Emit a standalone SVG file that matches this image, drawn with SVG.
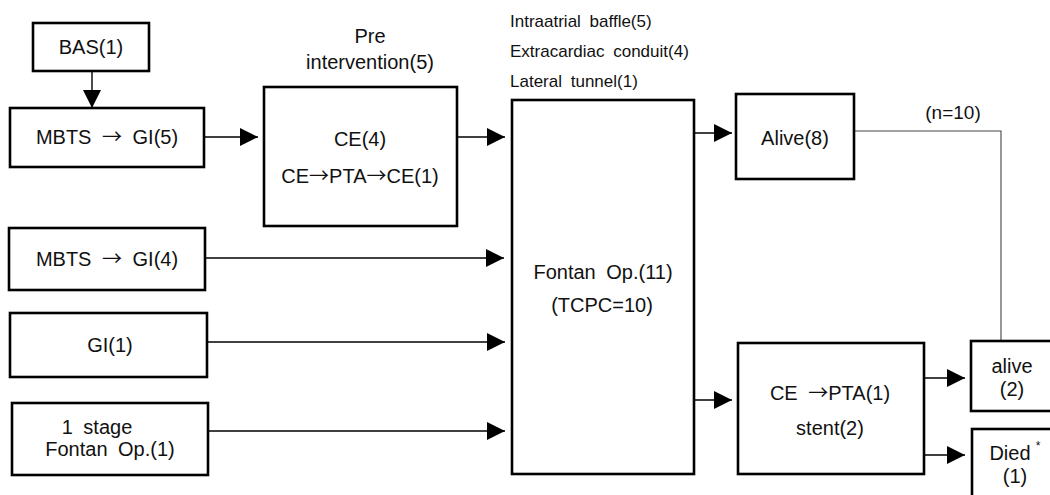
<svg xmlns="http://www.w3.org/2000/svg" width="1050" height="495" viewBox="0 0 1050 495">
<style>
  .box { fill: #fff; stroke: #000; stroke-width: 2.6; }
  .t { font-family: "Liberation Sans", Arial, sans-serif; font-size: 20px; fill: #111; text-anchor: middle; }
  .s { font-family: "Liberation Sans", Arial, sans-serif; font-size: 17px; fill: #111; word-spacing: 4px; }
  .w { word-spacing: 5px; }
  .ar { font-family: "Noto Sans CJK KR", "DejaVu Sans", sans-serif; font-size: 20px; }
  .c { fill: none; stroke: #000; stroke-width: 1.4; }
  .thin { fill: none; stroke: #444; stroke-width: 1.1; }
</style>
<defs>
  <marker id="ah" markerUnits="userSpaceOnUse" markerWidth="20" markerHeight="20" refX="18" refY="9" orient="auto">
    <path d="M0,0 L18,9 L0,18 z" fill="#000"/>
  </marker>
</defs>
<rect width="1050" height="495" fill="#fff"/>

<g id="connectors">
  <path class="c" d="M92,71 V108" marker-end="url(#ah)"/>
  <path class="c" d="M204,137 H258" marker-end="url(#ah)"/>
  <path class="c" d="M457,137 H505" marker-end="url(#ah)"/>
  <path class="c" d="M206,258 H504" marker-end="url(#ah)"/>
  <path class="c" d="M207,342 H505" marker-end="url(#ah)"/>
  <path class="c" d="M208,431 H505" marker-end="url(#ah)"/>
  <path class="c" d="M694,133 H732" marker-end="url(#ah)"/>
  <path class="c" d="M694,400 H732" marker-end="url(#ah)"/>
  <path class="c" d="M924,378 H965" marker-end="url(#ah)"/>
  <path class="c" d="M924,455 H965" marker-end="url(#ah)"/>
  <path class="thin" d="M854,131 H1001 V341"/>
  <text class="t" x="953" y="119" style="font-size:19px">(n=10)</text>
</g>

<g id="bas">
  <rect class="box" x="33" y="23" width="116" height="48"/>
  <text class="t" x="91" y="54">BAS(1)</text>
</g>

<g id="mbts5">
  <rect class="box" x="10" y="108" width="194" height="59"/>
  <text class="t w" x="107" y="144">MBTS <tspan class="ar">→</tspan> GI(5)</text>
</g>

<g id="pre">
  <text class="t" x="370" y="43">Pre</text>
  <text class="t" x="370" y="69">intervention(5)</text>
  <rect class="box" x="264" y="87" width="193" height="139"/>
  <text class="t" x="360" y="146">CE(4)</text>
  <text class="t" x="360" y="183">CE<tspan class="ar">→</tspan>PTA<tspan class="ar">→</tspan>CE(1)</text>
</g>

<g id="mbts4">
  <rect class="box" x="9" y="228" width="196" height="62"/>
  <text class="t w" x="107" y="266">MBTS <tspan class="ar">→</tspan> GI(4)</text>
</g>

<g id="gi1">
  <rect class="box" x="10" y="313" width="197" height="64"/>
  <text class="t" x="110" y="352">GI(1)</text>
</g>

<g id="stage1">
  <rect class="box" x="12" y="403" width="196" height="72"/>
  <text class="t w" x="97" y="434">1 stage</text>
  <text class="t w" x="110" y="456">Fontan Op.(1)</text>
</g>

<g id="fontan">
  <text class="s" x="510" y="27">Intraatrial baffle(5)</text>
  <text class="s" x="510" y="57">Extracardiac conduit(4)</text>
  <text class="s" x="510" y="87">Lateral tunnel(1)</text>
  <rect class="box" x="512" y="100" width="182" height="374"/>
  <text class="t w" x="603" y="279">Fontan Op.(11)</text>
  <text class="t" x="602" y="312">(TCPC=10)</text>
</g>

<g id="alive8">
  <rect class="box" x="736" y="94" width="118" height="85"/>
  <text class="t" x="795" y="145">Alive(8)</text>
</g>

<g id="ce">
  <rect class="box" x="738" y="343" width="186" height="131"/>
  <text class="t w" x="830" y="400">CE <tspan class="ar">→</tspan>PTA(1)</text>
  <text class="t" x="830" y="435">stent(2)</text>
</g>

<g id="alive2">
  <rect class="box" x="971" y="341" width="82" height="70"/>
  <text class="t" x="1012" y="373">alive</text>
  <text class="t" x="1012" y="396">(2)</text>
</g>

<g id="died">
  <rect class="box" x="972" y="429" width="82" height="72"/>
  <text class="t" x="1010" y="460">Died</text>
  <text class="t" x="1038" y="450" style="font-size:12px">*</text>
  <text class="t" x="1015" y="483">(1)</text>
</g>
</svg>
